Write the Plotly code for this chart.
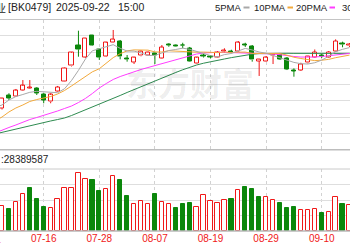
import plotly.graph_objects as go

dates = ["07-07", "07-08", "07-09", "07-10", "07-11", "07-14", "07-15", "07-16", "07-17", "07-18",
         "07-21", "07-22", "07-23", "07-24", "07-25", "07-28", "07-29", "07-30", "07-31", "08-01",
         "08-04", "08-05", "08-06", "08-07", "08-08", "08-11", "08-12", "08-13", "08-14", "08-15",
         "08-18", "08-19", "08-20", "08-21", "08-22", "08-25", "08-26", "08-27", "08-28", "08-29",
         "09-01", "09-02", "09-03", "09-04", "09-05", "09-08", "09-09", "09-10", "09-11", "09-12",
         "09-15", "09-16"]

opens = [2296.0, 2290.7, 2306.2, 2305.0, 2313.2, 2315.1, 2315.3, 2307.9, 2298.8, 2312.0,
         2323.9, 2342.8, 2368.6, 2353.5, 2379.7, 2363.3, 2354.2, 2371.4, 2372.7, 2352.0,
         2347.3, 2355.1, 2356.3, 2358.4, 2351.8, 2369.0, 2368.6, 2368.6, 2364.6, 2346.1,
         2355.4, 2354.7, 2353.0, 2360.6, 2360.9, 2360.4, 2369.5, 2366.5, 2348.9, 2348.1,
         2355.1, 2357.5, 2352.2, 2337.5, 2337.5, 2346.5, 2353.8, 2356.3, 2353.8, 2361.2,
         2370.2, 2367.4]
highs = [2298.5, 2303.4, 2309.2, 2314.5, 2325.5, 2325.5, 2316.6, 2309.2, 2309.2, 2318.2,
         2340.9, 2360.0, 2386.2, 2377.2, 2380.9, 2364.9, 2372.3, 2387.1, 2374.8, 2356.3,
         2353.8, 2361.8, 2360.4, 2359.4, 2368.6, 2370.7, 2369.2, 2371.4, 2366.2, 2353.8,
         2357.5, 2356.3, 2361.2, 2364.6, 2362.8, 2373.5, 2371.4, 2368.6, 2350.8, 2355.1,
         2357.2, 2358.8, 2353.8, 2339.9, 2346.8, 2355.1, 2363.1, 2357.5, 2361.2, 2375.6,
         2372.7, 2371.1]
lows = [2289.8, 2289.2, 2300.9, 2304.6, 2312.6, 2314.5, 2307.1, 2296.9, 2296.9, 2311.4,
        2323.7, 2342.2, 2354.2, 2352.6, 2367.4, 2350.2, 2353.8, 2371.1, 2351.0, 2348.1,
        2345.2, 2354.7, 2355.9, 2345.2, 2351.4, 2366.5, 2366.2, 2364.6, 2347.7, 2345.8,
        2353.2, 2352.2, 2352.6, 2358.8, 2358.4, 2360.0, 2366.2, 2348.1, 2330.5, 2347.7,
        2345.2, 2350.2, 2337.8, 2329.6, 2336.6, 2345.8, 2353.2, 2352.6, 2353.2, 2360.6,
        2365.8, 2366.2]
closes = [2293.5, 2303.0, 2303.0, 2312.4, 2318.2, 2315.7, 2309.2, 2300.9, 2307.1, 2316.9,
          2340.3, 2359.1, 2363.3, 2376.9, 2367.8, 2353.5, 2371.4, 2375.6, 2354.2, 2350.8,
          2353.0, 2360.4, 2359.6, 2355.1, 2365.8, 2368.2, 2366.5, 2367.8, 2348.1, 2353.0,
          2354.7, 2353.8, 2360.0, 2361.8, 2360.0, 2371.4, 2368.6, 2350.2, 2350.2, 2353.0,
          2356.7, 2351.0, 2338.7, 2336.6, 2345.2, 2354.5, 2359.4, 2354.7, 2360.0, 2373.5,
          2369.2, 2369.8]

ma5 = [2291.7, 2294.8, 2300.9, 2305.2, 2307.7, 2310.4, 2311.6, 2311.1, 2310.2, 2309.9,
       2314.8, 2324.9, 2337.4, 2351.3, 2361.5, 2364.1, 2366.5, 2369.0, 2364.6, 2361.2,
       2361.1, 2358.9, 2355.7, 2355.9, 2358.8, 2361.8, 2363.1, 2364.7, 2363.3, 2360.7,
       2357.9, 2355.6, 2354.0, 2356.8, 2358.2, 2361.6, 2364.4, 2362.5, 2360.0, 2358.5,
       2355.6, 2352.1, 2349.8, 2347.2, 2345.6, 2345.2, 2346.8, 2350.0, 2354.7, 2360.4,
       2363.3, 2365.4]
ma10 = [2275.1, 2280.0, 2286.2, 2291.1, 2294.8, 2299.1, 2301.5, 2303.4, 2305.2, 2308.3,
        2312.6, 2318.2, 2324.2, 2330.7, 2335.6, 2339.4, 2345.7, 2353.1, 2357.9, 2361.4,
        2362.6, 2362.7, 2362.3, 2360.1, 2360.0, 2361.5, 2361.0, 2360.1, 2359.5, 2359.8,
        2359.9, 2359.3, 2359.3, 2360.0, 2359.4, 2359.8, 2359.9, 2358.2, 2358.3, 2358.3,
        2358.5, 2358.2, 2356.1, 2353.5, 2352.0, 2350.4, 2349.4, 2349.9, 2350.9, 2353.0,
        2354.2, 2356.2]
ma20 = [2260.3, 2264.0, 2267.1, 2270.2, 2273.8, 2276.9, 2279.4, 2281.8, 2284.9, 2287.4,
        2290.5, 2293.5, 2297.8, 2302.8, 2308.9, 2315.7, 2321.2, 2326.2, 2329.8, 2332.9,
        2336.0, 2338.5, 2340.9, 2343.4, 2345.8, 2348.3, 2350.8, 2353.2, 2355.7, 2357.5,
        2358.8, 2359.4, 2359.6, 2359.6, 2359.4, 2359.1, 2359.0, 2358.8, 2358.5, 2358.2,
        2357.5, 2356.7, 2355.4, 2354.5, 2353.8, 2353.5, 2353.8, 2354.5, 2355.3, 2356.3,
        2357.3, 2358.2]
ma30 = [2259.1, 2261.2, 2263.4, 2265.5, 2267.4, 2269.4, 2271.1, 2273.4, 2275.1, 2276.9,
        2278.8, 2281.8, 2285.2, 2288.6, 2292.1, 2295.6, 2299.1, 2302.8, 2306.5, 2310.2,
        2313.8, 2317.5, 2321.2, 2324.9, 2328.6, 2331.7, 2334.8, 2338.1, 2341.3, 2344.0,
        2346.2, 2348.2, 2349.9, 2351.4, 2353.1, 2354.7, 2356.1, 2357.3, 2358.0, 2358.3,
        2358.4, 2358.4, 2358.4, 2358.3, 2358.2, 2358.0, 2357.9, 2357.9, 2357.9, 2358.0,
        2358.2, 2358.3]

volumes = [18000000, 16100000, 14000000, 18700000, 23700000, 27500000, 20500000, 15700000, 14600000, 20500000,
           27500000, 27500000, 37200000, 33400000, 32900000, 25800000, 26900000, 35700000, 32900000, 22300000,
           17200000, 19400000, 17200000, 23700000, 18900000, 17200000, 14600000, 17200000, 18300000, 15500000,
           23100000, 19400000, 18300000, 20000000, 20600000, 26500000, 28200000, 26900000, 22100000, 21700000,
           20000000, 17900000, 14600000, 15300000, 13500000, 13500000, 14000000, 11800000, 12500000, 22100000,
           17700000, 17100000]
vol_up = [0, 1, 0, 1, 1, 0, 0, 0, 1, 1,
          1, 1, 1, 1, 0, 0, 1, 1, 0, 0,
          1, 1, 1, 0, 1, 1, 0, 0, 0, 1,
          1, 1, 1, 1, 0, 1, 0, 0, 0, 1,
          1, 0, 0, 0, 1, 1, 1, 0, 1, 1,
          0, 1]

tick_dates = ["07-16", "07-28", "08-07", "08-19", "08-29", "09-10"]
cut_tick = "07-04"
board_name = "钢铁行业"
board_code = "[BK0479]"
stamp_date = "2025-09-22"
stamp_time = "15:00"
vol_label = ":28389587"
ma_names = ["5PMA", "10PMA", "20PMA", "30PMA"]
watermark = "东方财富"

RED = "#f01818"
GREEN = "#0b870b"
MA_COLORS = ["#a8a8a8", "#f2a93b", "#ff3cff", "#2e8b50"]
W, H = 350, 250

up = [c >= o for o, c in zip(opens, closes)]
base = [min(o, c) for o, c in zip(opens, closes)]
height = [max(abs(c - o), 0.12) for o, c in zip(opens, closes)]

fig = go.Figure()

# candle bodies
fig.add_trace(go.Bar(
    x=dates, y=height, base=base, width=0.6,
    marker=dict(color=["white" if u else GREEN for u in up],
                line=dict(color=[RED if u else GREEN for u in up], width=1)),
    xaxis="x", yaxis="y", hoverinfo="skip"))

# wicks (outside the bodies)
def wicks(flag):
    xs, ys = [], []
    for d, o, h, l, c, u in zip(dates, opens, highs, lows, closes, up):
        if u != flag:
            continue
        top, bot = max(o, c), min(o, c)
        if h > top:
            xs += [d, d, None]; ys += [top, h, None]
        if l < bot:
            xs += [d, d, None]; ys += [bot, l, None]
    return xs, ys

for flag, col in [(True, RED), (False, GREEN)]:
    wx, wy = wicks(flag)
    fig.add_trace(go.Scatter(x=wx, y=wy, mode="lines", line=dict(color=col, width=1),
                             xaxis="x", yaxis="y", hoverinfo="skip", connectgaps=False))

for series, col in zip([ma30, ma20, ma10, ma5], MA_COLORS[::-1]):
    fig.add_trace(go.Scatter(x=dates, y=series, mode="lines", line=dict(color=col, width=1),
                             xaxis="x", yaxis="y", hoverinfo="skip"))

# volume
fig.add_trace(go.Bar(
    x=dates, y=volumes, width=0.62,
    marker=dict(color=["white" if u else GREEN for u in vol_up],
                line=dict(color=[RED if u else GREEN for u in vol_up], width=1)),
    xaxis="x", yaxis="y2", hoverinfo="skip"))

def py(pix):
    return (H - pix) / H

def px(pix):
    return pix / W

price_dom = [py(149.5), py(19.5)]
vol_dom = [py(231), py(169)]

fig.update_layout(
    width=W, height=H, margin=dict(l=0, r=0, t=0, b=0),
    paper_bgcolor="white", plot_bgcolor="white", showlegend=False,
    barmode="overlay", bargap=0,
    xaxis=dict(type="category", range=[0.712, 51.07], anchor="y2",
               tickmode="array", tickvals=tick_dates, ticktext=tick_dates,
               showgrid=True, gridcolor="#d2d2d2", griddash="3px,3px", gridwidth=1,
               ticks="", showline=False, zeroline=False, fixedrange=True,
               tickfont=dict(family="Liberation Sans, Arial", size=10, color=RED)),
    yaxis=dict(domain=price_dom, range=[2240, 2400], tick0=2240, dtick=20,
               showticklabels=False, showgrid=True, gridcolor="#dedede", gridwidth=1,
               zeroline=False, fixedrange=True),
    yaxis2=dict(domain=vol_dom, range=[0, 40000000], tick0=0, dtick=10000000,
                showticklabels=False, showgrid=True, gridcolor="#dedede", gridwidth=1,
                zeroline=False, fixedrange=True),
)

# frame lines
for ypix, col, w in [(19.5, "#c4c4c4", 1), (149.8, "#bdbdbd", 1.6), (169, "#cacaca", 1), (231, "#b8b8b8", 1.4)]:
    fig.add_shape(type="line", xref="paper", yref="paper", x0=0, x1=1, y0=py(ypix), y1=py(ypix),
                  line=dict(color=col, width=w))

txt_font = dict(family="Liberation Sans, Arial", size=10.5, color="#222")
def ann(text, xpix, ypix, anchor="left", font=None):
    fig.add_annotation(text=text, xref="paper", yref="paper", x=px(xpix), y=py(ypix),
                       xanchor=anchor, yanchor="middle", showarrow=False, borderpad=0,
                       font=font or txt_font)

ann(board_name, 6.5, 7, "right", dict(family="Noto Sans CJK SC", size=10.5, color="#222"))
ann(board_code, 7, 7)
ann(stamp_date, 55, 7)
ann(stamp_time, 117, 7)

leg_font = dict(family="Liberation Sans, Arial", size=9.5, color="#222")
ann(ma_names[0], 242.5, 7, "right", leg_font)
ann(ma_names[1], 286.5, 7, "right", leg_font)
ann(ma_names[2], 328.5, 7, "right", leg_font)
ann(ma_names[3], 341, 7, "left", leg_font)
for (x0, x1), col in zip([(243.5, 249.5), (287.5, 293), (329.5, 335)], MA_COLORS[:3]):
    fig.add_shape(type="line", xref="paper", yref="paper", x0=px(x0), x1=px(x1), y0=py(7.5), y1=py(7.5),
                  line=dict(color=col, width=2))

ann(vol_label, 0, 159.5, "left", dict(family="Liberation Sans, Arial", size=10, color="#222"))
ann(cut_tick, -12, 241, "center", dict(family="Liberation Sans, Arial", size=10, color=RED))

fig.add_annotation(text=watermark, xref="paper", yref="paper", x=px(190), y=py(82),
                   xanchor="center", yanchor="middle", showarrow=False,
                   font=dict(family="Noto Sans CJK SC", size=32, color="rgba(0,0,0,0.08)", weight="bold"))

fig.write_html("out.html")
